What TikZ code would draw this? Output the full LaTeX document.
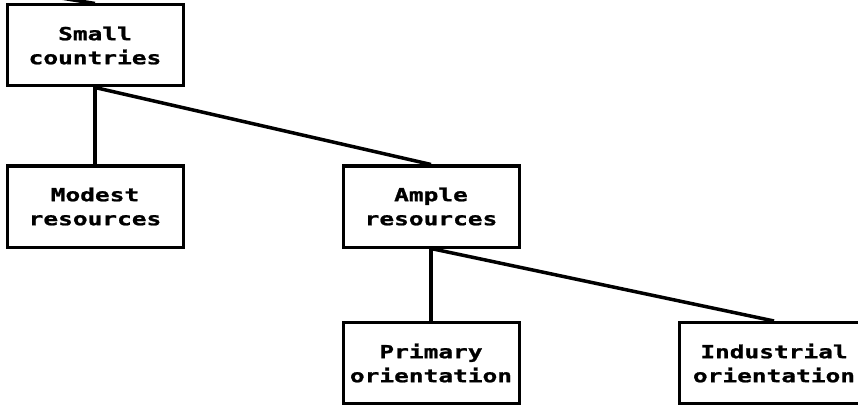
\documentclass[tikz,border=0pt]{standalone}
\usepackage{fontspec}
\newfontfamily\dotfont[FakeStretch=1.36,FakeBold=1.2]{DejaVu Sans Mono Bold}
\usetikzlibrary{positioning}

\begin{document}
\begin{tikzpicture}[
      x=1pt,y=-1pt,on grid,
      box/.style={draw, line width=3pt, minimum width=176pt, minimum height=81pt,
        align=center, font=\dotfont\fontsize{18}{24}\selectfont},
      link/.style={line width=3.5pt},
      ]
      \useasboundingbox (0,0) rectangle (858,406);
      \clip (0,0) rectangle (858,406);

      \coordinate (up) at (-235,-50);
      \node[box] (small)      at (95,45.5)              {Small\\countries};
      \node[box] (modest)     [below=161pt of small]    {Modest\\resources};
      \node[box] (ample)      [right=336pt of modest]   {Ample\\resources};
      \node[box] (primary)    [below=156.5pt of ample]  {Primary\\orientation};
      \node[box, minimum width=190pt] (industrial) [right=343pt of primary] {Industrial\\orientation};

      \draw[link] (up) -- (small.north);
      \draw[link] (small.south) -- (modest.north);
      \draw[link] (small.south) -- (ample.north);
      \draw[link] (ample.south) -- (primary.north);
      \draw[link] (ample.south) -- (industrial.north);
\end{tikzpicture}
\end{document}
